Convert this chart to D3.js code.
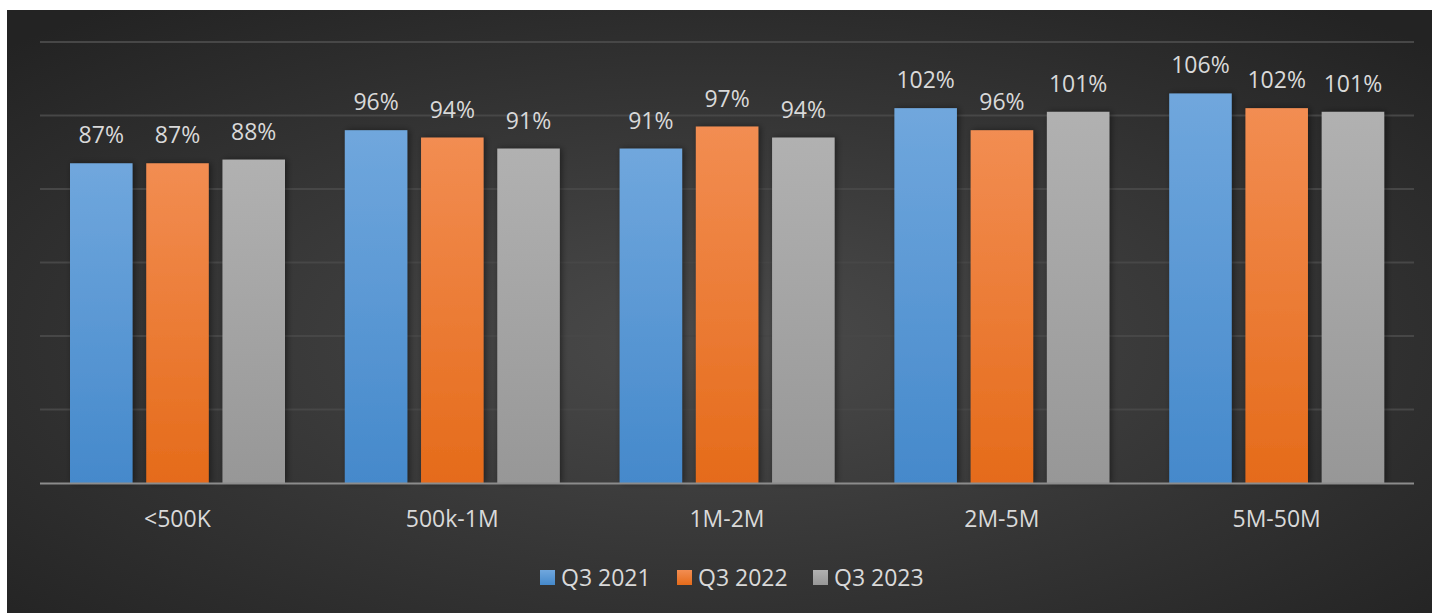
<!DOCTYPE html>
<html><head><meta charset="utf-8">
<script src="https://cdn.jsdelivr.net/npm/d3@7"></script>
<style>html,body{margin:0;padding:0;background:#fff;}svg{display:block;}</style>
</head><body>
<svg id="c" width="1439" height="613"></svg>
<script>
const categories = ["<500K","500k-1M","1M-2M","2M-5M","5M-50M"];
const seriesNames = ["Q3 2021","Q3 2022","Q3 2023"];
const q3_2021 = [87,96,91,102,106];
const q3_2022 = [87,94,97,96,102];
const q3_2023 = [88,91,94,101,101];
const yTicks = [0,20,40,60,80,100,120];

const seriesValues = [q3_2021,q3_2022,q3_2023];
const colors = [["#70a7dd","#4589cb"],["#f28d52","#e56b1a"],["#b1b1b1","#979797"]];
const svg = d3.select("#c");
const defs = svg.append("defs");
const bg = defs.append("radialGradient").attr("id","bg").attr("cx","50%").attr("cy","55%").attr("r","70%");
bg.append("stop").attr("offset","0%").attr("stop-color","#4b4b4b");
bg.append("stop").attr("offset","100%").attr("stop-color","#232323");
colors.forEach((c,i)=>{
  const g = defs.append("linearGradient").attr("id","g"+i).attr("x1",0).attr("y1",0).attr("x2",0).attr("y2",1);
  g.append("stop").attr("offset","0%").attr("stop-color",c[0]);
  g.append("stop").attr("offset","100%").attr("stop-color",c[1]);
});
const sh = defs.append("filter").attr("id","sh").attr("x","-20%").attr("y","-20%").attr("width","140%").attr("height","140%");
sh.append("feDropShadow").attr("dx",2).attr("dy",0).attr("stdDeviation",3).attr("flood-color","#000").attr("flood-opacity",0.45);

svg.append("rect").attr("x",7).attr("y",10).attr("width",1425).attr("height",603).attr("fill","url(#bg)");

const x0 = d3.scaleBand().domain(categories).range([40,1414]).paddingInner(0).paddingOuter(0);
const x1 = d3.scaleBand().domain(seriesNames).range([30,245]).paddingInner(0.18);
const y = d3.scaleLinear().domain([0,120]).range([483,42]);

const font = "'Open Sans', 'Noto Sans', sans-serif";

svg.append("g").selectAll("line").data(yTicks.slice(1)).join("line")
  .attr("x1",40).attr("x2",1414).attr("y1",d=>y(d)).attr("y2",d=>y(d))
  .attr("stroke","#474747").attr("stroke-width",2);

const groups = svg.append("g").selectAll("g").data(categories).join("g")
  .attr("transform",d=>`translate(${x0(d)},0)`);
groups.selectAll("rect").data((d,ci)=>seriesValues.map((s,si)=>({si,v:s[ci]}))).join("rect")
  .attr("x",d=>x1(seriesNames[d.si])).attr("width",x1.bandwidth())
  .attr("y",d=>y(d.v)).attr("height",d=>y(0)-y(d.v))
  .attr("fill",d=>`url(#g${d.si})`).attr("filter","url(#sh)");
groups.selectAll("text").data((d,ci)=>seriesValues.map((s,si)=>({si,v:s[ci]}))).join("text")
  .attr("x",d=>x1(seriesNames[d.si])+x1.bandwidth()/2).attr("y",d=>y(d.v)-20)
  .attr("text-anchor","middle").attr("fill","#d9d9d9").attr("font-family",font).attr("font-size",23)
  .text(d=>d.v+"%");

svg.append("line").attr("x1",40).attr("x2",1414).attr("y1",483.5).attr("y2",483.5)
  .attr("stroke","#8c8c8c").attr("stroke-width",2);

const xa = svg.append("g").attr("transform","translate(0,483)").call(d3.axisBottom(x0).tickSize(0).tickPadding(44));
xa.select(".domain").remove();
xa.selectAll("text").attr("dy",0).attr("fill","#d9d9d9").attr("font-family",font).attr("font-size",23);

const legX = [540,677,813];
const lg = svg.append("g").selectAll("g").data(seriesNames).join("g")
  .attr("transform",(d,i)=>`translate(${legX[i]},570)`);
lg.append("rect").attr("width",15).attr("height",15).attr("fill",(d,i)=>`url(#g${i})`);
lg.append("text").attr("x",21).attr("y",15.5).attr("fill","#d9d9d9").attr("font-family",font).attr("font-size",23).text(d=>d);
</script>
</body></html>
